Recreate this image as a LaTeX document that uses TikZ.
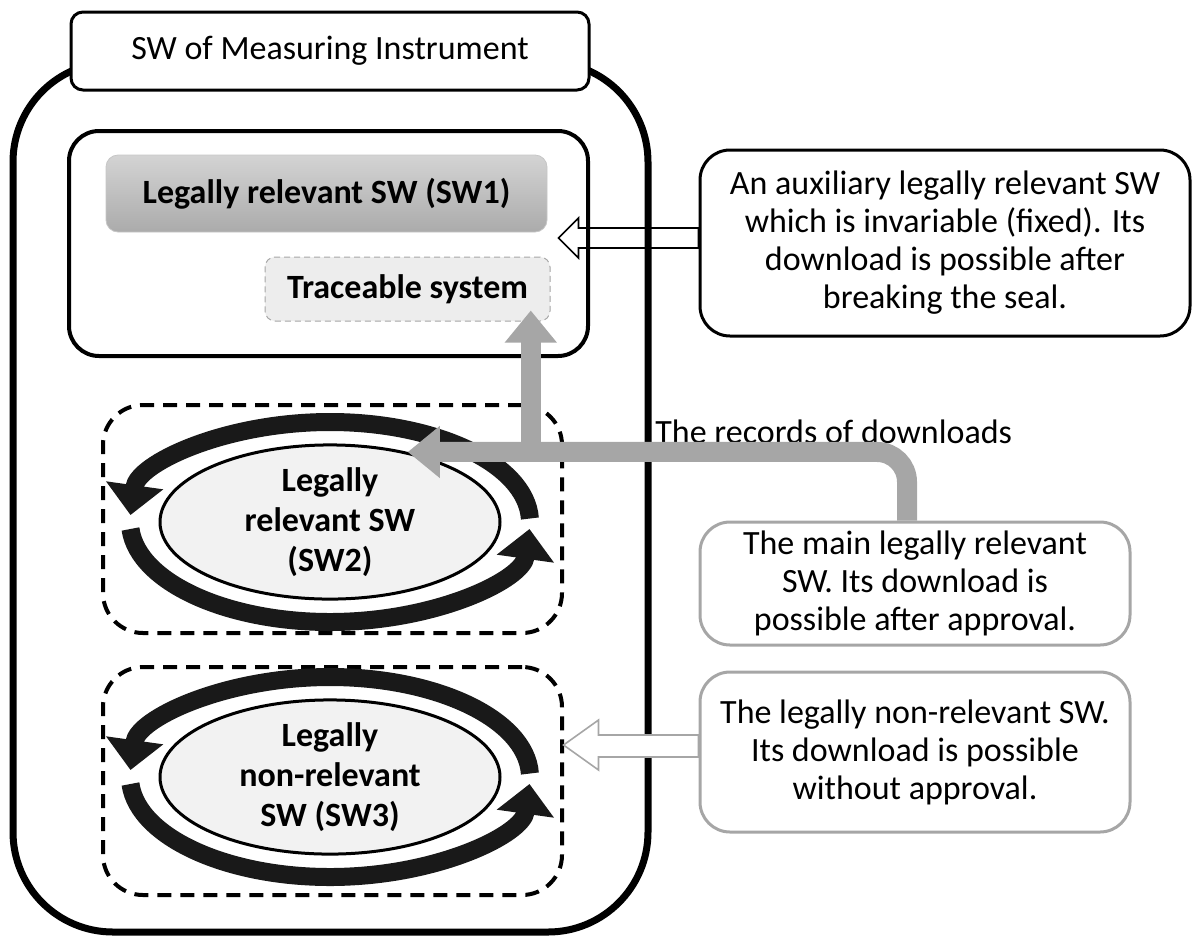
\documentclass[tikz,border=0pt]{standalone}
\usepackage{fontspec}
\setmainfont{Carlito}
\usetikzlibrary{shapes.geometric,arrows.meta,calc,positioning}
\definecolor{recgray}{HTML}{A6A6A6}
\definecolor{ovalfill}{HTML}{F2F2F2}
\definecolor{tracefill}{HTML}{EDEDED}

\begin{document}
\begin{tikzpicture}[x=0.5pt,y=-0.5pt,
  every node/.style={font=\fontsize{17}{19}\selectfont, inner sep=0pt},
  box/.style={draw, fill=white, line width=1.5pt, rounded corners=6pt},
  zone/.style={draw, line width=2pt, rounded corners=15pt},
  dzone/.style={draw, line width=2pt, rounded corners=20pt, dash pattern=on 7pt off 4.5pt},
  callout/.style={draw, fill=white, line width=1.5pt, rounded corners=15pt, align=center},
  oval/.style={ellipse, draw, fill=ovalfill, line width=1.5pt, minimum width=170pt, minimum height=72.5pt, align=center, font=\bfseries\fontsize{17}{20}\selectfont},
  cycarrow/.style={line width=9pt, black!90, -{Triangle[width=28pt,length=15pt]}},
  records/.style={line width=10pt, recgray, -{Triangle[width=25pt,length=16pt]}},
  hollow/.style={draw, fill=white, line width=0.8pt, line join=miter}
]
\useasboundingbox (0,0) rectangle (1193,938);

% callout on the right, arrow goes under the boxes
\node[callout, minimum width=245pt, minimum height=93pt] (aux) at (945,243)
  {An auxiliary legally relevant SW\\which is invariable (fixed). Its\\download is possible after\\breaking the seal.};
\draw[hollow] (aux.west) ++(0,-15) -- ++(-120,0) -- ++(0,-10) -- ++(-20,20) -- ++(20,20) -- ++(0,-10) -- ++(120,0) -- cycle;

% the instrument
\node[draw, line width=3.5pt, rounded corners=50pt, minimum width=317.5pt, minimum height=435pt] (instr) at (330.5,497) {};
\node[box, minimum width=259pt, minimum height=39pt] (title) at (330,51) {SW of Measuring Instrument};

% fixed part
\node[zone, minimum width=259.5pt, minimum height=112.5pt] (fixed) at (328.5,243.5) {};
\node[draw=gray!45, line width=0.4pt, rounded corners=6pt, top color=black!17, bottom color=black!33,
  minimum width=220.5pt, minimum height=38.5pt, font=\bfseries\fontsize{17}{20}\selectfont] (sw1) at (326.5,193.5) {Legally relevant SW (SW1)};
\node[draw=gray!70, densely dashed, line width=0.5pt, fill=tracefill, rounded corners=5pt,
  minimum width=142.5pt, minimum height=32pt, font=\bfseries\fontsize{17}{20}\selectfont] (trace) at (407.5,289) {Traceable system};

% downloadable parts
\node[dzone, minimum width=229.5pt, minimum height=114pt] (zone2) at (332.5,519) {};
\node[oval] (sw2) at (330,522) {Legally\\relevant SW\\(SW2)};
\draw[cycarrow] ($(sw2.center)+(-2:200 and 100)$) arc[start angle=-2, end angle=-176, x radius=200, y radius=100];
\draw[cycarrow] ($(sw2.center)+(176:200 and 100)$) arc[start angle=176, end angle=4, x radius=200, y radius=100];

\node[dzone, minimum width=229.5pt, minimum height=114pt] (zone3) at (332.5,781) {};
\node[oval] (sw3) at (330,777) {Legally\\non-relevant\\SW (SW3)};
\draw[cycarrow] ($(sw3.center)+(-2:200 and 100)$) arc[start angle=-2, end angle=-176, x radius=200, y radius=100];
\draw[cycarrow] ($(sw3.center)+(176:200 and 100)$) arc[start angle=176, end angle=4, x radius=200, y radius=100];

% records of downloads
\node[callout, draw=recgray, minimum width=215pt, minimum height=61.5pt] (main) at (915,583.5)
  {The main legally relevant\\SW. Its download is\\possible after approval.};
\node[anchor=west] (reclabel) at (655,432) {The records of downloads};
\draw[records, rounded corners=15pt] ($(main.north)+(-8,0)$) |- (sw2.42);
\path (sw2.42) ++(123,0) coordinate (fork);
\draw[records] (fork) -- ($(fork |- trace.south)+(0,-11)$);

% non-relevant part
\node[callout, draw=recgray, minimum width=215pt, minimum height=80pt] (nonrel) at (915,752)
  {The legally non-relevant SW.\\Its download is possible\\without approval.};
\draw[hollow, draw=recgray] (nonrel.west) ++(0,-17) -- ++(-100,0) -- ++(0,-15) -- ++(-35,25) -- ++(35,25) -- ++(0,-13) -- ++(100,0) -- cycle;
\end{tikzpicture}
\end{document}
